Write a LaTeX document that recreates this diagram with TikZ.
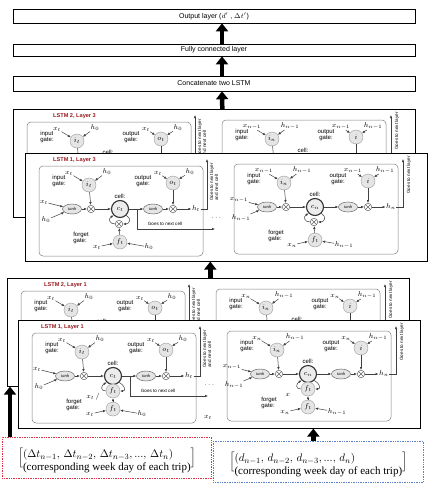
\documentclass[tikz,border=0pt]{standalone}
\usepackage{amsmath}
\usepackage[no-math]{fontspec}
\setmainfont{Liberation Serif}
\setsansfont{Liberation Sans}
\usepackage{tikz}
\usetikzlibrary{shapes,arrows.meta}
\definecolor{lstmred}{RGB}{150,25,30}
\definecolor{dtred}{RGB}{225,50,70}
\definecolor{dayblue}{RGB}{90,130,200}

% one LSTM cell: name, corner, index, gate input, tanh input, forget input, previous h, output gate, loop label
\newcommand\lstmcell[9]{%
\begin{scope}[shift={#2}]
  \draw[cellbox] (0,0) rectangle (164,90);
  \node[gatetext] (#1it) at (20,15) {input\\gate:};
  \node[gatenode] (#1i) at (50,19) {$i_{#3}$};
  \node[lbl] (#1xi) at (30,7) {$#4$};
  \node[lbl] (#1hi) at (68,6) {$#7$};
  \node[gatetext,align=center] (#1ot) at (104,15) {output\\gate:};
  \node[gatenode] (#1o) at (134,17) {$#8$};
  \node[lbl] (#1xo) at (119,7) {$#4$};
  \node[lbl] (#1ho) at (151,6) {$#7$};
  \node[lbl] (#1xa) at (5,36) {$#5$};
  \node[lbl] (#1ha) at (7,54) {$#7$};
  \node[squash] (#1a) at (33,43) {tanh};
  \node[mult] (#1m1) at (52,43) {};
  \node[cellstate] (#1c) at (81,43) {$c_{#3}$};
  \node[gatetext] (#1ct) at (81,30) {cell:};
  \node[squash] (#1b) at (114,43) {tanh};
  \node[mult] (#1m2) at (134,43) {};
  \node[lbl] (#1h) at (157,43) {$h_{#3}$};
  \coordinate (#1s) at (98,43);
  \ifnum\loopkind=0\relax
    \node[mult] (#1m3) at (80,58) {};
  \else
    \node[gatenode] (#1m3) at (81,58) {$f_t$};
    \node[lbl] (#1xl) at (61,64) {$#9$};
  \fi
  \node[gatenode] (#1f) at (81,76) {$f_t$};
  \node[gatetext] (#1ft) at (42,72) {forget\\gate:};
  \node[lbl] (#1xf) at (58,81) {$#6$};
  \node[lbl] (#1hf) at (110,81) {$#7$};
  \draw[cellflow] (#1xa) -- (#1a); \draw[cellflow] (#1ha) -- (#1a);
  \draw[cellflow] (#1a) -- (#1m1); \draw[cellflow] (#1i) -- (#1m1);
  \draw[cellflow] (#1m1) -- (#1c); \draw[cellflow] (#1c) -- (#1b);
  \draw[cellflow] (#1b) -- (#1m2); \draw[cellflow] (#1o) -- (#1m2);
  \draw[cellflow] (#1m2) -- (#1h);
  \draw[cellflow] (#1xi) -- (#1i); \draw[cellflow] (#1hi) -- (#1i);
  \draw[cellflow] (#1xo) -- (#1o); \draw[cellflow] (#1ho) -- (#1o);
  \draw[cellflow] (#1xf) -- (#1f); \draw[cellflow] (#1hf) -- (#1f);
  \draw[cellflow] (#1f) -- (#1m3);
  \draw[cellflow] (#1c.south east) to[out=-30,in=0,looseness=1.8] (#1m3.east);
  \draw[cellflow] (#1m3.west) to[out=180,in=210,looseness=1.8] (#1c.south west);
\end{scope}}

% one LSTM layer: name, corner, title, title x, loop kind, gate input of the right cell
\newcommand\lstmlayer[6]{%
\def\loopkind{#5}%
\begin{scope}[shift={#2}]
  \node[lstmframe,anchor=north west] (#1) at (0,0) {};
  \node[lstmname,anchor=west] (#1t) at (#4,7) {#3};
  \lstmcell{#1L}{(14,13)}{t}{x_t}{x_t}{x_t}{h_0}{o_t}{x_t\,/}
  \lstmcell{#1R}{(209,11)}{n}{#6}{x_{n-1}}{x_n}{h_{n-1}}{i}{x}
  \coordinate (#1u1) at (182,6);
  \coordinate (#1u2) at (378,6);
  \coordinate (#1nc) at (190,76);
  \draw[cellflow] (#1Lh) -| (#1u1);
  \draw[cellflow] (#1Rh) -| (#1u2);
  \draw[cellflow] (#1Ls) |- (#1nc);
  \node[note,rotate=90,align=left] (#1ul) at (189,29) {Goes to next layer\\and next cell};
  \node[note,rotate=90] (#1ur) at (384,22) {Goes to next layer};
  \node[note] (#1nt) at (140,71) {Goes to next cell};
  \node[lbl] (#1d) at (192,65) {$\cdots$};
  \ifnum\loopkind=1\relax \node[lbl] (#1x) at (190,97) {$x_t$}; \fi
\end{scope}}

\begin{document}
\begin{tikzpicture}[x=1pt,y=-1pt,
  layerbox/.style={draw,line width=0.6pt,minimum width=402pt,inner sep=0pt,font=\sffamily\fontsize{7}{8}\selectfont},
  lstmframe/.style={draw,fill=white,line width=0.6pt,minimum width=402pt,minimum height=108pt,inner sep=0pt},
  lstmname/.style={text=lstmred,inner sep=0pt,font=\sffamily\bfseries\fontsize{5.6}{6}\selectfont},
  cellbox/.style={draw=gray,fill=white,rounded corners=4pt,line width=0.5pt},
  gatenode/.style={circle,draw=gray!80,fill=gray!20,minimum size=14pt,inner sep=0pt,font=\fontsize{7}{7}\selectfont},
  cellstate/.style={circle,draw=black!80,fill=gray!15,line width=1.1pt,minimum size=17pt,inner sep=0pt,font=\fontsize{7}{7}\selectfont},
  squash/.style={ellipse,draw=black!70,fill=gray!20,minimum width=19pt,minimum height=10pt,inner sep=0pt,font=\itshape\fontsize{4.5}{5}\selectfont},
  mult/.style={circle,draw=black!60,fill=white,minimum size=7.5pt,inner sep=0pt,line width=0.5pt,
    path picture={\draw[black!60,line width=0.5pt] (path picture bounding box.north west) -- (path picture bounding box.south east)
      (path picture bounding box.north east) -- (path picture bounding box.south west);}},
  lbl/.style={inner sep=0.5pt,font=\fontsize{7}{7}\selectfont},
  gatetext/.style={align=left,inner sep=0pt,font=\sffamily\fontsize{6}{6.5}\selectfont},
  note/.style={inner sep=0.5pt,font=\sffamily\fontsize{4.6}{5}\selectfont},
  cellflow/.style={-{Latex[length=3pt,width=2.5pt]},draw=gray!50!black,line width=0.5pt},
  fatarrow/.style={-{Triangle[length=8pt,width=12pt]},line width=4.5pt},
  inbox/.style={densely dotted,line width=0.7pt,minimum height=41pt,inner sep=0pt,font=\fontsize{11}{13}\selectfont}]
\useasboundingbox (0,0) rectangle (440,490);
\node[layerbox,minimum height=14pt] (out) at (214,16) {Output layer ($d'$ , $\Delta t'$)};
\node[layerbox,minimum height=12pt] (fc) at (214,50) {Fully connected layer};
\node[layerbox,minimum height=15pt] (cat) at (214,83.5) {Concatenate two LSTM};
\lstmlayer{L3b}{(13,109)}{LSTM 2, Layer 3}{40}{0}{x_{n-1}}
\lstmlayer{L3a}{(25,153)}{LSTM 1, Layer 3}{28}{0}{x_{n-1}}
\lstmlayer{L1b}{(7,278)}{LSTM 2, Layer 1}{37}{1}{x_n}
\lstmlayer{L1a}{(18,320)}{LSTM 1, Layer 1}{23}{1}{x_n}
\node[inbox,draw=dtred,minimum width=209pt,anchor=north west] (dt) at (2,437)
  {$\left[\begin{array}{@{}l@{}}(\Delta t_{n-1},\,\Delta t_{n-2},\,\Delta t_{n-3},...,\,\Delta t_n)\\ \text{(corresponding week day of each trip)}\\[-7pt] \end{array}\right]$};
\node[inbox,draw=dayblue,minimum width=210pt,anchor=north west] (day) at (213,441)
  {$\left[\begin{array}{@{}l@{}}(d_{n-1},\,d_{n-2},\,d_{n-3},...,\,d_n)\\ \text{(corresponding week day of each trip)}\\[-7pt] \end{array}\right]$};
\draw[fatarrow] ([xshift=8pt]fc.north) -- ([xshift=8pt]out.south);
\draw[fatarrow] ([xshift=8pt]cat.north) -- ([xshift=8pt]fc.south);
\draw[fatarrow] ([xshift=8pt]L3b.north) -- ([xshift=8pt]cat.south);
\coordinate (j1) at ([xshift=2pt]L1b.north);
\draw[fatarrow] (j1) -- (j1 |- L3a.south);
\coordinate (j2) at ([xshift=8pt]dt.north west);
\draw[fatarrow] (j2) -- (j2 |- L1b.south);
\coordinate (j3) at ([xshift=-5pt]day.north);
\draw[fatarrow] (j3) -- (j3 |- L1a.south);
\end{tikzpicture}
\end{document}
